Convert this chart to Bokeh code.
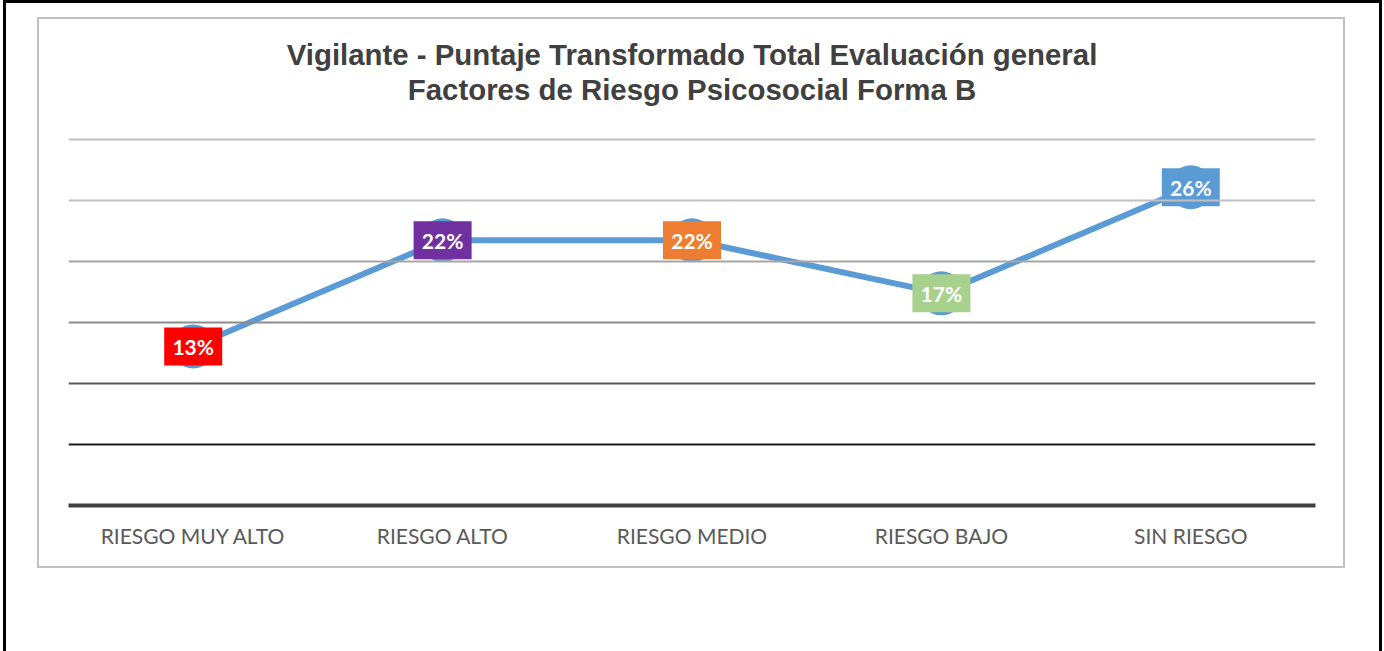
from bokeh.plotting import figure
from bokeh.models import ColumnDataSource, FactorRange, Range1d, Span, Title
from bokeh.layouts import column
from bokeh.core.properties import value
from bokeh.embed import file_html
from bokeh.resources import INLINE

# ---- data ----
categories = ["RIESGO MUY ALTO", "RIESGO ALTO", "RIESGO MEDIO", "RIESGO BAJO", "SIN RIESGO"]
values = [13.04, 21.74, 21.74, 17.39, 26.09]
labels = ["13%", "22%", "22%", "17%", "26%"]
label_colors = ["#FF0000", "#7030A0", "#ED7D31", "#A9D18E", "#5B9BD5"]
grid_levels = [5, 10, 15, 20, 25, 30]
grid_colors = ["#1a1a1a", "#595959", "#8c8c8c", "#a6a6a6", "#c0c0c0", "#c0c0c0"]
title_lines = ["Vigilante - Puntaje Transformado Total Evaluación general",
               "Factores de Riesgo Psicosocial Forma B"]

src = ColumnDataSource(dict(cat=categories, val=values, lab=labels, col=label_colors))

p = figure(
    x_range=FactorRange(*categories, range_padding=0),
    y_range=Range1d(0, 32.79),
    width=1308, height=551,
    output_backend="svg", toolbar_location=None,
    y_axis_location=None,
    min_border_left=29, min_border_right=32,
    min_border_top=86, min_border_bottom=65,
    background_fill_color="white", border_fill_color="white",
)
p.outline_line_color = None
p.xgrid.grid_line_color = None
p.ygrid.grid_line_color = None

# second line first (closest to the frame), then the first line above it
p.add_layout(Title(text=title_lines[1], align="center",
                   text_font="Liberation Sans", text_font_style="bold",
                   text_font_size="29.4px", text_color="#404040",
                   standoff=0), "above")
p.add_layout(Title(text=title_lines[0], align="center",
                   text_font="Liberation Sans", text_font_style="bold",
                   text_font_size="29.4px", text_color="#404040",
                   standoff=0), "above")

for lvl, c in zip(grid_levels, grid_colors):
    p.add_layout(Span(location=lvl, dimension="width", line_color=c, line_width=2))

ax = p.xaxis[0]
ax.axis_line_color = "#404040"
ax.axis_line_width = 4
ax.major_tick_line_color = None
ax.minor_tick_line_color = None
ax.major_label_text_font = "Lato"
ax.major_label_text_font_size = "21px"
ax.major_label_text_color = "#595959"
ax.major_label_standoff = 11

p.line("cat", "val", source=src, line_width=6, line_color="#5B9BD5")
p.scatter("cat", "val", source=src, size=44, fill_color="#5B9BD5", line_color=None)
p.rect("cat", "val", source=src, width=58, height=38, width_units="screen",
       height_units="screen", fill_color="col", line_color=None)
p.text("cat", "val", text="lab", source=src, text_color="white",
       text_font=value("Lato"), text_font_style="bold", text_font_size="21px",
       text_align="center", text_baseline="middle")

p.styles = {"border": "2px solid #c0c0c0"}
p.margin = (14, 0, 0, 31)

layout = column(p, width=1379, height=651, margin=(0, 0, 0, 3),
                styles={"border-left": "3px solid black",
                        "border-top": "3px solid black",
                        "border-right": "3px solid black",
                        "background-color": "white"})

open("out.html", "w").write(file_html(layout, INLINE))
